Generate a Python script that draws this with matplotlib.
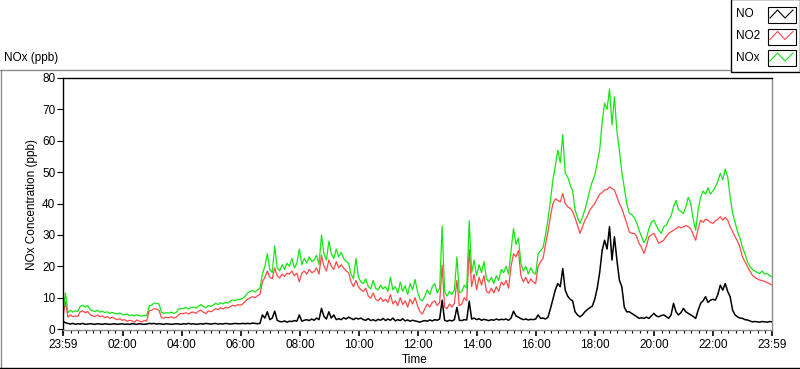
import numpy as np
import matplotlib
matplotlib.use("Agg")
import matplotlib.pyplot as plt
from matplotlib.lines import Line2D
from matplotlib.patches import Rectangle

plt.rcParams['font.family'] = ['Liberation Sans', 'DejaVu Sans']

# data: minutes after 23:59, one reading every 5 min (rows = 1 hour)
minutes = np.arange(0, 1441, 5)

nox_ppb = [
    5.5, 11.5, 5.2, 6.0, 5.4, 5.8, 5.6, 7.2, 7.6, 7.0, 7.5, 6.2,
    5.8, 5.6, 6.0, 5.4, 5.7, 5.2, 5.5, 5.0, 5.3, 5.0, 4.8, 5.1,
    4.7, 4.5, 4.8, 4.3, 4.5, 4.2, 4.6, 4.3, 4.1, 4.4, 4.2, 7.4,
    7.6, 8.3, 8.2, 8.0, 5.3, 5.0, 5.2, 5.1, 5.4, 5.0, 5.3, 6.4,
    6.5, 6.6, 6.8, 6.4, 6.9, 7.0, 6.7, 7.3, 7.8, 7.2, 6.8, 7.5,
    7.2, 7.6, 8.2, 7.8, 8.4, 8.0, 8.5, 8.3, 8.9, 9.3, 9.0, 9.5,
    9.4, 9.8, 10.5, 11.5, 12.0, 12.3, 11.8, 12.5, 13.0, 17.5, 20.0, 24.0,
    19.0, 18.0, 26.5, 19.5, 18.5, 20.5, 19.0, 21.0, 20.0, 22.5, 19.5, 21.0,
    25.5, 20.5, 22.5, 21.0, 23.0, 21.5, 22.0, 23.5, 20.5, 30.0, 24.0, 22.0,
    28.0, 24.0, 22.5, 25.5, 23.0, 24.5, 22.5, 21.5, 21.0, 17.5, 16.0, 22.5,
    16.5, 15.0, 14.5, 16.0, 13.5, 12.8, 15.5, 13.0, 12.5, 14.0, 12.8, 13.5,
    12.0, 16.5, 12.5, 13.5, 11.5, 15.0, 12.0, 13.8, 11.0, 14.5, 12.5, 15.8,
    12.0, 9.5, 9.0, 10.5, 12.5, 11.0, 13.5, 14.5, 11.5, 13.0, 32.8, 12.0,
    10.5, 12.0, 11.0, 12.5, 23.0, 11.5, 12.0, 14.0, 13.0, 34.5, 18.0, 22.0,
    17.0, 20.5, 18.0, 21.5, 16.0, 15.0, 16.5, 14.5, 17.0, 15.5, 19.0, 18.0,
    20.0, 17.5, 25.0, 32.0, 27.0, 29.0, 21.0, 18.5, 20.0, 17.5, 19.5, 18.0,
    17.5, 24.0, 25.0, 26.0, 30.0, 35.0, 41.0, 47.5, 52.0, 57.0, 53.0, 62.0,
    49.6, 48.5, 46.0, 44.0, 38.0, 35.5, 33.7, 35.5, 38.0, 41.0, 44.3, 47.0,
    49.0, 53.0, 57.0, 66.0, 72.0, 70.0, 76.5, 65.0, 74.0, 63.0, 57.0, 50.0,
    45.0, 40.0, 37.0, 36.5, 35.5, 34.0, 31.5, 29.5, 27.5, 29.0, 32.0, 34.0,
    34.7, 33.0, 31.5, 30.5, 32.6, 33.0, 34.7, 36.0, 39.0, 41.0, 38.0, 37.5,
    36.8, 39.0, 42.0, 40.0, 35.0, 31.5, 38.0, 42.0, 44.0, 43.0, 45.0, 43.0,
    44.0, 45.3, 47.0, 49.6, 47.5, 51.0, 48.5, 42.0, 37.0, 34.0, 31.0, 29.0,
    26.0, 24.0, 21.5, 20.0, 19.0, 18.5, 18.0, 17.7, 18.5, 17.5, 17.7, 17.0,
    16.7,
]

no2_ppb = [
    4.0, 8.7, 3.8, 4.5, 3.9, 4.2, 4.0, 5.5, 5.8, 5.2, 5.6, 4.6,
    4.2, 4.0, 4.5, 3.9, 4.2, 3.6, 4.0, 3.4, 3.8, 3.3, 3.0, 3.3,
    2.8, 3.0, 2.5, 2.8, 2.6, 2.2, 2.9, 2.5, 2.3, 2.7, 2.6, 5.8,
    6.0, 6.5, 6.3, 6.0, 3.6, 3.5, 3.8, 3.6, 3.9, 3.5, 3.8, 4.6,
    5.0, 4.9, 5.2, 4.8, 5.3, 5.4, 5.0, 5.7, 6.0, 5.4, 4.9, 5.8,
    5.5, 5.9, 6.5, 6.2, 6.8, 6.4, 6.9, 6.7, 7.2, 7.6, 7.3, 7.8,
    7.6, 8.0, 8.8, 9.5, 10.0, 10.3, 10.0, 10.6, 11.0, 15.0, 16.5, 18.5,
    16.5, 16.0, 19.5, 17.0, 16.3, 17.5, 16.8, 17.8, 17.5, 18.5, 17.0, 17.8,
    15.0, 17.8, 18.5, 17.5, 19.0, 18.0, 18.3, 19.5, 17.5, 23.5, 20.0, 18.5,
    22.0, 20.0, 19.0, 21.5, 19.5, 20.5, 19.5, 18.5, 18.0, 15.0, 13.5, 15.5,
    13.5, 12.5, 12.0, 13.0, 10.5, 9.8, 11.5, 9.5, 9.0, 10.0, 8.8, 9.5,
    8.5, 11.0, 8.0, 9.0, 7.5, 10.0, 7.8, 9.0, 7.0, 9.5, 8.0, 10.0,
    7.5, 5.5, 4.8, 6.5, 8.0, 7.0, 8.5, 9.0, 7.5, 8.5, 20.4, 7.0,
    6.5, 8.0, 7.0, 8.2, 15.5, 7.5, 8.0, 10.0, 9.0, 25.5, 13.5, 17.5,
    12.5, 16.5, 14.0, 17.0, 12.0, 11.5, 13.0, 11.5, 13.5, 12.0, 15.0, 14.0,
    15.5, 13.0, 20.0, 24.0, 23.0, 25.0, 17.0, 15.0, 16.5, 14.5, 16.0, 15.0,
    14.5, 20.0, 21.5, 22.5, 27.0, 31.0, 36.0, 40.0, 41.5, 41.0, 40.5, 43.2,
    40.0, 39.0, 38.5, 37.5, 35.5, 33.0, 30.5, 32.5, 34.7, 36.0, 37.9, 39.0,
    40.0, 41.5, 43.0, 43.5, 44.3, 44.5, 45.3, 44.8, 44.3, 42.1, 40.0, 38.5,
    36.0, 33.7, 31.0, 30.5, 30.5, 29.5, 27.3, 26.0, 24.1, 26.5, 29.4, 30.0,
    30.5, 29.0, 27.3, 27.8, 28.3, 29.5, 30.5, 31.0, 31.5, 32.0, 32.6, 32.3,
    32.6, 33.0, 32.6, 32.0, 30.0, 28.3, 32.0, 34.7, 34.0, 35.0, 34.7, 34.0,
    33.7, 34.5, 35.0, 35.8, 34.7, 35.5, 34.7, 32.6, 31.0, 29.4, 28.0, 26.0,
    23.0, 21.5, 20.0, 18.5, 17.2, 16.5, 16.0, 15.6, 15.5, 15.1, 14.8, 14.5,
    14.0,
]

no_ppb = [
    2.5, 2.0, 1.8, 1.6, 1.8, 1.5, 1.7, 1.6, 1.8, 1.5, 1.6, 1.7,
    1.6, 1.5, 1.7, 1.6, 1.5, 1.7, 1.6, 1.5, 1.6, 1.7, 1.5, 1.6,
    1.7, 1.5, 1.6, 1.5, 1.7, 1.6, 1.5, 1.7, 1.6, 1.5, 1.6, 1.8,
    1.7, 1.8, 1.6, 1.7, 1.6, 1.5, 1.7, 1.6, 1.5, 1.6, 1.7, 1.6,
    1.5, 1.7, 1.6, 1.8, 1.6, 1.7, 1.5, 1.6, 1.7, 1.6, 1.8, 1.7,
    1.6, 1.7, 1.8, 1.6, 1.7, 1.6, 1.8, 1.7, 1.6, 1.7, 1.8, 1.7,
    1.7, 1.8, 1.7, 1.8, 1.7, 1.9, 1.8, 1.7, 1.8, 4.5, 3.5, 5.5,
    3.0, 3.5, 5.7, 2.8, 2.4, 2.3, 2.6, 2.2, 2.5, 2.4, 2.7, 2.5,
    4.5, 2.5, 2.8, 3.0, 2.7, 3.2, 2.8, 3.5, 3.0, 6.6, 4.0, 3.2,
    5.5, 3.5, 4.5, 3.0, 3.3, 3.0, 3.6, 3.2, 3.8, 3.4, 3.0, 3.5,
    3.2, 3.5, 3.0, 2.8, 3.3, 2.7, 3.0, 2.6, 3.1, 2.8, 3.4, 2.7,
    3.2, 2.8, 3.5, 2.6, 3.0, 2.7, 3.3, 2.6, 2.9, 2.5, 2.8, 2.6,
    2.4, 2.2, 2.5, 2.7, 2.5, 2.9, 2.6, 3.0, 2.8, 3.2, 9.2, 2.8,
    2.5, 2.8, 2.6, 3.0, 6.9, 2.8, 2.7, 3.0, 2.9, 8.9, 3.2, 3.5,
    3.0, 3.3, 2.8, 3.1, 2.9, 2.7, 3.0, 2.8, 3.2, 2.9, 3.1, 3.0,
    3.2, 2.8, 3.5, 5.7, 4.2, 3.8, 3.3, 3.0, 3.2, 2.9, 3.1, 3.0,
    3.2, 4.5, 3.4, 3.5, 3.2, 3.8, 6.5, 9.5, 12.5, 14.5, 13.5, 19.3,
    12.4, 10.5, 9.5, 9.0, 5.5, 4.5, 3.9, 4.5, 5.5, 6.2, 6.8, 7.3,
    9.5, 13.0, 18.0, 25.0, 28.3, 25.5, 32.6, 22.0, 29.4, 22.0, 15.6, 13.5,
    7.0, 5.5, 5.5, 5.0, 4.5, 4.0, 3.4, 3.6, 3.4, 3.8, 3.4, 4.2,
    5.0, 4.2, 3.9, 4.3, 4.5, 4.0, 3.4, 4.5, 8.2, 5.5, 4.5, 5.2,
    6.6, 5.5, 5.0, 4.5, 4.0, 3.4, 6.0, 8.2, 9.0, 10.3, 8.5, 9.2,
    9.5, 9.2, 11.0, 14.0, 12.4, 14.5, 12.0, 10.3, 6.0, 4.5, 3.9, 3.5,
    3.4, 3.0, 2.9, 2.6, 2.3, 2.4, 2.3, 2.2, 2.4, 2.3, 2.2, 2.4,
    2.3,
]

series_names = ['NO', 'NO2', 'NOx']
series_colors = ['black', '#ff4848', '#14e614']
series_widths = [1.1, 0.9, 0.9]

tick_minutes = [0, 121, 241, 361, 481, 601, 721, 841, 961, 1081, 1201, 1321, 1440]
tick_labels = ['23:59', '02:00', '04:00', '06:00', '08:00', '10:00', '12:00',
               '14:00', '16:00', '18:00', '20:00', '22:00', '23:59']

W, H = 800, 369
fig = plt.figure(figsize=(8, 3.69), dpi=100)

ax = fig.add_axes([63 / W, 1 - 330 / H, (772 - 63) / W, (330 - 78) / H])
for vals, col, lw in zip([no_ppb, no2_ppb, nox_ppb], series_colors, series_widths):
    ax.plot(minutes, vals, color=col, lw=lw)

ax.set_xlim(0, 1440)
ax.set_ylim(-0.3, 80)
ax.set_yticks(np.arange(0, 81, 10))
ax.set_xticks(tick_minutes)
ax.set_xticklabels(tick_labels)
ax.set_xticks(np.arange(1, 1440, 15), minor=True)
ax.tick_params(axis='y', direction='out', length=4, width=0.8, pad=1.5, labelsize=8.5)
ax.tick_params(axis='x', which='major', direction='out', length=4, width=1.2, pad=2.5, labelsize=8.5)
ax.tick_params(axis='x', which='minor', direction='out', length=2.5, width=0.8)
for side in ['top', 'left']:
    ax.spines[side].set_color('black')
    ax.spines[side].set_linewidth(1.0)
for side in ['bottom', 'right']:
    ax.spines[side].set_color('#8c8c8c')
    ax.spines[side].set_linewidth(1.0)

fig.text(32 / W, 1 - 204 / H, 'NOx Concentration (ppb)', rotation=90,
         ha='center', va='center', fontsize=8.5)
fig.text(415 / W, 1 - 360 / H, 'Time', ha='center', va='center', fontsize=8.5)
fig.text(4 / W, 1 - 58 / H, 'NOx (ppb)', ha='left', va='center', fontsize=8.5)

# frame + legend drawn in pixel coordinates
deco = fig.add_axes([0, 0, 1, 1], zorder=5)
deco.set_xlim(0, W)
deco.set_ylim(H, 0)
deco.set_axis_off()
deco.add_line(Line2D([0, 730], [69.5, 69.5], color='#8c8c8c', lw=1))
deco.add_line(Line2D([0.5, 0.5], [69.5, 368], color='#8c8c8c', lw=1))
deco.add_line(Line2D([0, 799], [367.5, 367.5], color='black', lw=1))
deco.add_patch(Rectangle((730.5, -1), 69, 72.5, facecolor='white', edgecolor='black', lw=1))

sw_top = [7, 28.5, 50]
txt_y = [14, 36, 58]
for name, col, top, ty in zip(series_names, series_colors, sw_top, txt_y):
    deco.text(736, ty, name, ha='left', va='center', fontsize=8.5)
    deco.add_patch(Rectangle((768, top), 28, 16, facecolor='white', edgecolor='black', lw=0.8))
    deco.add_line(Line2D([770, 777.5, 785, 793], [top + 11, top + 3, top + 11, top + 3],
                         color=col, lw=0.8))

fig.savefig('out.png', dpi=100)
